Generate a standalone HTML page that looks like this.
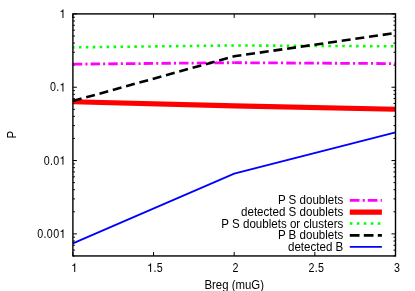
<!DOCTYPE html>
<html><head><meta charset="utf-8"><title>plot</title>
<style>html,body{margin:0;padding:0;background:#fff;overflow:hidden}svg{display:block;will-change:transform}text{font-family:"Liberation Sans",sans-serif;font-size:11.4px;fill:#000}.lg{font-size:11.58px}</style></head><body>
<svg width="415" height="291" viewBox="0 0 415 291">
<rect width="415" height="291" fill="#fff"/>
<path d="M72.9 13.90h4.0M395.5 13.90h-4.0M72.9 87.23h4.0M395.5 87.23h-4.0M72.9 160.55h4.0M395.5 160.55h-4.0M72.9 233.88h4.0M395.5 233.88h-4.0M72.9 65.15h2.0M395.5 65.15h-2.0M72.9 52.24h2.0M395.5 52.24h-2.0M72.9 43.08h2.0M395.5 43.08h-2.0M72.9 35.97h2.0M395.5 35.97h-2.0M72.9 30.17h2.0M395.5 30.17h-2.0M72.9 25.26h2.0M395.5 25.26h-2.0M72.9 21.01h2.0M395.5 21.01h-2.0M72.9 17.26h2.0M395.5 17.26h-2.0M72.9 138.48h2.0M395.5 138.48h-2.0M72.9 125.57h2.0M395.5 125.57h-2.0M72.9 116.40h2.0M395.5 116.40h-2.0M72.9 109.30h2.0M395.5 109.30h-2.0M72.9 103.49h2.0M395.5 103.49h-2.0M72.9 98.58h2.0M395.5 98.58h-2.0M72.9 94.33h2.0M395.5 94.33h-2.0M72.9 90.58h2.0M395.5 90.58h-2.0M72.9 211.80h2.0M395.5 211.80h-2.0M72.9 198.89h2.0M395.5 198.89h-2.0M72.9 189.73h2.0M395.5 189.73h-2.0M72.9 182.62h2.0M395.5 182.62h-2.0M72.9 176.82h2.0M395.5 176.82h-2.0M72.9 171.91h2.0M395.5 171.91h-2.0M72.9 167.66h2.0M395.5 167.66h-2.0M72.9 163.91h2.0M395.5 163.91h-2.0M72.9 255.95h2.0M395.5 255.95h-2.0M72.9 250.14h2.0M395.5 250.14h-2.0M72.9 245.24h2.0M395.5 245.24h-2.0M72.9 240.98h2.0M395.5 240.98h-2.0M72.9 237.23h2.0M395.5 237.23h-2.0M72.90 255.95v-4.0M72.90 13.9v4.0M153.55 255.95v-4.0M153.55 13.9v4.0M234.20 255.95v-4.0M234.20 13.9v4.0M314.85 255.95v-4.0M314.85 13.9v4.0M395.50 255.95v-4.0M395.50 13.9v4.0" stroke="#000" stroke-width="1" fill="none"/>
<path d="M72.90 64.15L234.20 62.7" stroke="#ff00ff" stroke-width="2.8" stroke-dasharray="9.4 3.1 2.1 3.1" fill="none"/>
<path d="M234.20 62.7L395.50 63.6" stroke="#ff00ff" stroke-width="2.8" stroke-dasharray="9.5 3.2 2.1 3.2" stroke-dashoffset="1.9" fill="none"/>
<polyline points="72.90,101.75 234.20,105.85 395.50,109.25" stroke="#ff0000" stroke-width="5.2" fill="none"/>
<polyline points="72.90,47.35 234.20,45.45 395.50,46.30" stroke="#00ff00" stroke-width="2.6" stroke-dasharray="2.5 4.43" stroke-dashoffset="0.9" fill="none"/>
<polyline points="72.90,101.00 234.20,56.30 395.50,33.00" stroke="#000" stroke-width="2.6" stroke-dasharray="9.0 4.8" fill="none"/>
<polyline points="72.90,243.30 234.20,173.60 395.50,132.40" stroke="#0000ff" stroke-width="1.8" fill="none"/>
<path d="M349.8 200.4H381.9" stroke="#ff00ff" stroke-width="2.8" stroke-dasharray="9.7 3.2 2.1 2.95"/>
<path d="M349.8 212.2H381.9" stroke="#ff0000" stroke-width="5.2"/>
<path d="M349.8 223.5H381.9" stroke="#00ff00" stroke-width="2.6" stroke-dasharray="2.6 4.4"/>
<path d="M349.8 235.3H381.9" stroke="#000" stroke-width="2.7" stroke-dasharray="9.7 4.3"/>
<path d="M349.8 246.9H381.9" stroke="#0000ff" stroke-width="1.8"/>
<text transform="translate(343.3,204.45) scale(1,1.06)" text-anchor="end" class="lg">P S doublets</text>
<text transform="translate(343.3,216.00) scale(1,1.06)" text-anchor="end" class="lg">detected S doublets</text>
<text transform="translate(343.3,227.55) scale(1,1.06)" text-anchor="end" class="lg">P S doublets or clusters</text>
<text transform="translate(343.3,239.10) scale(1,1.06)" text-anchor="end" class="lg">P B doublets</text>
<text transform="translate(343.3,250.65) scale(1,1.06)" text-anchor="end" class="lg">detected B</text>
<rect x="72.9" y="13.9" width="322.60" height="242.05" fill="none" stroke="#000" stroke-width="1.4"/>
<path transform="translate(59.36,18.10) scale(0.01140,-0.01233)" d="M359 0H271V505H102V568C235 580 270 610 306 709H359Z" fill="#000"/>
<text transform="translate(50.04,91.43) scale(0.94,1.06)">0</text><text transform="translate(56.29,91.43) scale(0.94,1.06)">.</text><path transform="translate(59.36,91.43) scale(0.01140,-0.01233)" d="M359 0H271V505H102V568C235 580 270 610 306 709H359Z" fill="#000"/>
<text transform="translate(43.71,164.75) scale(0.94,1.06)">0</text><text transform="translate(49.95,164.75) scale(0.94,1.06)">.</text><text transform="translate(53.21,164.75) scale(0.94,1.06)">0</text><path transform="translate(59.36,164.75) scale(0.01140,-0.01233)" d="M359 0H271V505H102V568C235 580 270 610 306 709H359Z" fill="#000"/>
<text transform="translate(37.37,238.08) scale(0.94,1.06)">0</text><text transform="translate(43.61,238.08) scale(0.94,1.06)">.</text><text transform="translate(46.87,238.08) scale(0.94,1.06)">0</text><text transform="translate(53.21,238.08) scale(0.94,1.06)">0</text><path transform="translate(59.36,238.08) scale(0.01140,-0.01233)" d="M359 0H271V505H102V568C235 580 270 610 306 709H359Z" fill="#000"/>
<path transform="translate(71.13,272.10) scale(0.01140,-0.01233)" d="M359 0H271V505H102V568C235 580 270 610 306 709H359Z" fill="#000"/>
<path transform="translate(147.03,272.10) scale(0.01140,-0.01233)" d="M359 0H271V505H102V568C235 580 270 610 306 709H359Z" fill="#000"/><text transform="translate(153.46,272.10) scale(0.94,1.06)">.</text><text transform="translate(156.72,272.10) scale(0.94,1.06)">5</text>
<text transform="translate(232.62,272.10) scale(0.94,1.06)">2</text>
<text transform="translate(308.52,272.10) scale(0.94,1.06)">2</text><text transform="translate(314.76,272.10) scale(0.94,1.06)">.</text><text transform="translate(318.02,272.10) scale(0.94,1.06)">5</text>
<text transform="translate(393.92,272.10) scale(0.94,1.06)">3</text>
<text transform="translate(234.20,288.5) scale(1,1.06)" text-anchor="middle">Breg (muG)</text>
<text transform="translate(15.9,134.8) rotate(-90) scale(1,1.06)" text-anchor="middle">P</text>
</svg></body></html>
